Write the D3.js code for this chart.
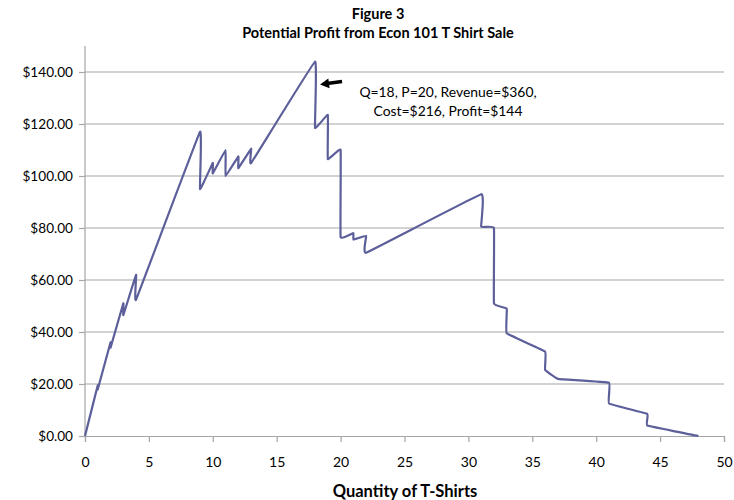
<!DOCTYPE html>
<html><head><meta charset="utf-8">
<script src="https://cdn.jsdelivr.net/npm/d3@7"></script>
<style>body{margin:0;background:#fff}svg{display:block}</style>
</head><body>
<svg id="c" width="734" height="500"></svg>
<script>
const titleLines = ["Figure 3", "Potential Profit from Econ 101 T Shirt Sale"];
const xTitle = "Quantity of T-Shirts";
const xTicks = [0,5,10,15,20,25,30,35,40,45,50];
const yTicks = [0,20,40,60,80,100,120,140];
const quantity = [0,1,1,2,2,3,3,4,4,9,9,10,10,11,11,12,12,13,13,18,18,19,19,20,20,21,21,22,22,31,31,32,32,33,33,36,36,37,41,41,44,44,48];
const profit   = [0,19.5,18,36,34,51,46.5,62,52.5,117,95,105,101,110,100,107.5,103,110.5,105,144,118.5,123.5,106.5,110,76.5,78,75.5,77,70.5,93,80.5,80,51,49,39.5,32.5,25.5,22,20.5,12.5,8.5,4,0];
const noteLines = ["Q=18, P=20, Revenue=$360,", "Cost=$216, Profit=$144"];
const noteAt = {q:18, p:144};

const svg = d3.select("#c");
const font = "Lato, 'Open Sans', sans-serif";
const L=85, R=724, T=46, B=436;
const x = d3.scaleLinear().domain([0,50]).range([L,R]);
const y = d3.scaleLinear().domain([0,150]).range([B,T]);

// gridlines
svg.append("g").selectAll("line").data(yTicks.filter(d=>d>0)).join("line")
  .attr("x1",L).attr("x2",R).attr("y1",d=>y(d)).attr("y2",d=>y(d))
  .attr("stroke","#a6a6a6").attr("stroke-width",1.2);

const gx = svg.append("g").attr("transform",`translate(0,${B})`)
  .call(d3.axisBottom(x).tickValues(xTicks).tickSize(6).tickPadding(15).tickFormat(d3.format("d")));
const gy = svg.append("g").attr("transform",`translate(${L},0)`)
  .call(d3.axisLeft(y).tickValues(yTicks).tickSize(6).tickPadding(6).tickFormat(d=>"$"+d3.format(".2f")(d)));
[gx,gy].forEach(g=>{
  g.select(".domain").attr("stroke","#a6a6a6").attr("stroke-width",1.2);
  g.selectAll(".tick line").attr("stroke","#a6a6a6").attr("stroke-width",1.2);
  g.selectAll("text").attr("font-family",font).attr("font-size",13.6).attr("fill","#000");
});
gx.selectAll("text").attr("font-size",14);
gy.select(".domain").attr("d",`M0,${T}V${B}`);

// line
const pts = quantity.map((q,i)=>[x(q), y(profit[i])]);
svg.append("path").attr("d", d3.line().curve(d3.curveCardinal.tension(0.8))(pts))
  .attr("fill","none").attr("stroke","#5c5f99").attr("stroke-width",2.2).attr("stroke-linejoin","round");

// titles
svg.append("g").selectAll("text").data(titleLines).join("text")
  .attr("x",378).attr("y",(d,i)=>19+i*19).attr("text-anchor","middle")
  .attr("font-family",font).attr("font-weight","bold").attr("font-size",14.5).text(d=>d);
svg.append("text").attr("x",405).attr("y",497).attr("text-anchor","middle")
  .attr("font-family",font).attr("font-weight","bold").attr("font-size",16.5).text(xTitle);

// annotation
svg.append("g").selectAll("text").data(noteLines).join("text")
  .attr("x",448).attr("y",(d,i)=>97+i*19).attr("text-anchor","middle")
  .attr("font-family",font).attr("font-size",13.9).text(d=>d);
const ax = x(noteAt.q), ay = y(noteAt.p);
const tip=[ax+5, ay+23], tail=[ax+27, ay+20];
svg.append("line").attr("x1",tail[0]).attr("y1",tail[1]).attr("x2",tip[0]+7).attr("y2",tip[1]-1)
  .attr("stroke","#000").attr("stroke-width",3.5);
const ang = Math.atan2(tip[1]-tail[1], tip[0]-tail[0]);
const hl=9, hw=5;
const bx=tip[0]-hl*Math.cos(ang), by=tip[1]-hl*Math.sin(ang);
svg.append("path").attr("d",`M${tip[0]},${tip[1]}L${bx-hw*Math.sin(ang)},${by+hw*Math.cos(ang)}L${bx+hw*Math.sin(ang)},${by-hw*Math.cos(ang)}Z`).attr("fill","#000");
</script>
</body></html>
